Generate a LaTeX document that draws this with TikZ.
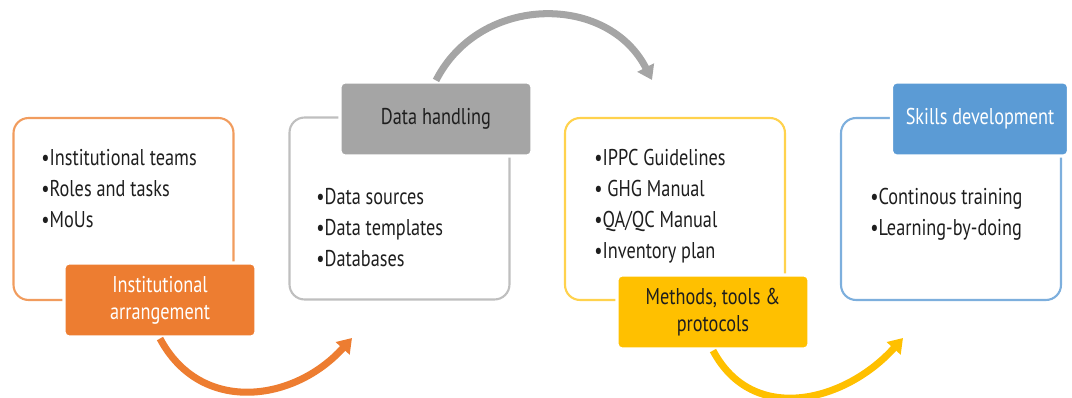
\documentclass[tikz,border=0pt]{standalone}
\usepackage{fontspec}
\setmainfont{PT Sans}[FakeStretch=0.8]
\usetikzlibrary{arrows.meta}
\definecolor{orangeFill}{HTML}{ED7D31}
\definecolor{orangeLine}{HTML}{F19C5E}
\definecolor{greyFill}{HTML}{A5A5A5}
\definecolor{greyLine}{HTML}{BFBFBF}
\definecolor{yellowFill}{HTML}{FFC000}
\definecolor{yellowLine}{HTML}{FFD24D}
\definecolor{blueFill}{HTML}{5B9BD5}
\definecolor{blueLine}{HTML}{7DAFDD}
\definecolor{textDark}{HTML}{1E1E1E}
\begin{document}
\begin{tikzpicture}[x=0.02cm,y=-0.02cm,
    outline/.style={draw,line width=1.2pt,rounded corners=0.3cm,
      minimum width=4.4cm,minimum height=3.64cm,fill=white},
    label/.style={draw=white,line width=1.8pt,rounded corners=0.1cm,
      minimum width=3.84cm,minimum height=1.48cm,align=center,
      font=\fontsize{13}{15.3}\selectfont},
    items/.style={anchor=north west,inner sep=0pt,align=left,text=textDark,
      font=\fontsize{13}{17.6}\selectfont},
    cycle/.style={line width=4pt,-{Triangle[length=0.28cm,width=0.36cm]}}]
  \useasboundingbox (0,0) rectangle (1072,398);
  % outlined boxes
  \node[outline,draw=orangeLine] (box1) at (123.5,209) {};
  \node[outline,draw=greyLine] (box2) at (399.5,208.5) {};
  \node[outline,draw=yellowLine] (box3) at (675,209) {};
  \node[outline,draw=blueLine] (box4) at (951,209) {};
  % bullet lists
  \node[items] (list1) at (41,149) {\textbullet Institutional teams\\
    \textbullet Roles and tasks\\ \textbullet MoUs};
  \node[items] (list2) at (316,188) {\textbullet Data sources\\
    \textbullet Data templates\\ \textbullet Databases};
  \node[items] (list3) at (594,149) {\textbullet IPPC Guidelines\\
    \textbullet\ GHG Manual\\ \textbullet QA/QC Manual\\
    \textbullet Inventory plan};
  \node[items] (list4) at (870,188) {\textbullet Continous training\\
    \textbullet Learning-by-doing};
  % filled labels
  \node[label,fill=orangeFill,text=white] (lab1) at (160,300)
    {Institutional\\ arrangement};
  \node[label,fill=greyFill,text=textDark] (lab2) at (436,119)
    {Data handling};
  \node[label,fill=yellowFill,text=textDark] (lab3) at (713,312)
    {Methods, tools \&\\ protocols};
  \node[label,fill=blueFill,text=white,minimum width=3.54cm] (lab4)
    at (980,119) {Skills development};
  % curved arrows
  \coordinate (tip1) at (352,338);
  \coordinate (tip2) at (652,80);
  \coordinate (tip3) at (903,338);
  \begin{scope}[cycle]
    \draw[orangeFill] (lab1.south) to[out=-62,in=228,looseness=1.15] (tip1);
    \draw[greyFill] (lab2.north) to[out=63,in=117,looseness=1.15] (tip2);
    \draw[yellowFill] (lab3.south) to[out=-62,in=228,looseness=1.15] (tip3);
  \end{scope}
\end{tikzpicture}
\end{document}
